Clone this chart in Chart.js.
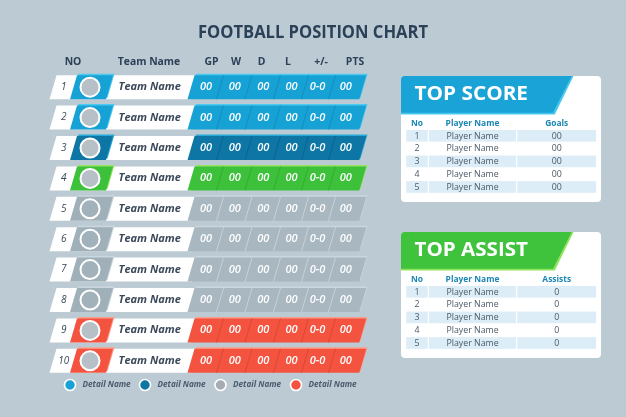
<!DOCTYPE html>
<html>
<head>
<meta charset="utf-8">
<script src="https://cdn.jsdelivr.net/npm/chart.js@4.4.1/dist/chart.umd.min.js"></script>
<style>
html,body{margin:0;padding:0;width:626px;height:417px;overflow:hidden;background:#bccad3;}
#main{position:absolute;left:0;top:0;}
.panel{position:absolute;}
#p1{left:401px;top:76px;}
#p2{left:401px;top:232px;}
</style>
</head>
<body>
<canvas id="main" width="626" height="417"></canvas>
<canvas id="p1" class="panel" width="200" height="126"></canvas>
<canvas id="p2" class="panel" width="200" height="126"></canvas>
<script>
// ---------- DATA ----------
const chartTitle = 'FOOTBALL POSITION CHART';
const headers = ['NO', 'Team Name', 'GP', 'W', 'D', 'L', '+/-', 'PTS'];
const ranks = ['1', '2', '3', '4', '5', '6', '7', '8', '9', '10'];
const teams = ['Team Name', 'Team Name', 'Team Name', 'Team Name', 'Team Name', 'Team Name', 'Team Name', 'Team Name', 'Team Name', 'Team Name'];
const zones = ['cyan', 'cyan', 'navy', 'green', 'grey', 'grey', 'grey', 'grey', 'red', 'red'];
const gp = ['00', '00', '00', '00', '00', '00', '00', '00', '00', '00'];
const wins = ['00', '00', '00', '00', '00', '00', '00', '00', '00', '00'];
const draws = ['00', '00', '00', '00', '00', '00', '00', '00', '00', '00'];
const losses = ['00', '00', '00', '00', '00', '00', '00', '00', '00', '00'];
const goalDiff = ['0-0', '0-0', '0-0', '0-0', '0-0', '0-0', '0-0', '0-0', '0-0', '0-0'];
const pts = ['00', '00', '00', '00', '00', '00', '00', '00', '00', '00'];
const legendNames = ['Detail Name', 'Detail Name', 'Detail Name', 'Detail Name'];
const legendZones = ['cyan', 'navy', 'greyLegend', 'red'];

const scoreTitle = 'TOP SCORE';
const scoreHeaders = ['No', 'Player Name', 'Goals'];
const scoreRanks = ['1', '2', '3', '4', '5'];
const scorePlayers = ['Player Name', 'Player Name', 'Player Name', 'Player Name', 'Player Name'];
const scoreGoals = ['00', '00', '00', '00', '00'];

const assistTitle = 'TOP ASSIST';
const assistHeaders = ['No', 'Player Name', 'Assists'];
const assistRanks = ['1', '2', '3', '4', '5'];
const assistPlayers = ['Player Name', 'Player Name', 'Player Name', 'Player Name', 'Player Name'];
const assistValues = ['0', '0', '0', '0', '0'];

// ---------- STYLE / LAYOUT ----------
const FONT = "'Open Sans','Noto Sans',sans-serif";
const PAL = {
  cyan:  {fill:'#17a2d5', hi:'#4cc9ef', circle:'#b7c0c7', line:'rgba(0,60,100,0.22)'},
  navy:  {fill:'#0e76a5', hi:'#27a9d8', circle:'#b7c0c7', line:'rgba(0,30,60,0.25)'},
  green: {fill:'#3dc13b', hi:'#95e460', circle:'#b7c0c7', line:'rgba(0,80,0,0.2)'},
  grey:  {fill:'#a8b7c0', hi:'#cbd7de', circle:'#a2b2bb', line:'rgba(255,255,255,0.35)', badge:'#a0b0b9'},
  red:   {fill:'#f4533f', hi:'#fb9f8b', circle:'#b7c0c7', line:'rgba(120,20,0,0.22)'},
  greyLegend: {fill:'#a5acb4'}
};
const LAY = {
  slant: 7, thick: 24, hiOff: 1.5,
  white: [53, 195], badge: [73.5, 109.5],
  stats: [191, 220, 248.5, 277, 305, 332, 362.5],
  headerX: [73, 149, 211.5, 236, 261.5, 288, 321, 355], headerY: 62.5,
  titleX: 313, titleY: 33, titleW: 230,
  legendY: 385, legendX: [70, 145, 220.5, 296]
};
const statValues = [gp, wins, draws, losses, goalDiff, pts];

function para(ctx, xl, xr, yc, h, s) {
  ctx.beginPath();
  ctx.moveTo(xl - s / 2, yc + h / 2);
  ctx.lineTo(xl + s / 2, yc - h / 2);
  ctx.lineTo(xr + s / 2, yc - h / 2);
  ctx.lineTo(xr - s / 2, yc + h / 2);
  ctx.closePath();
}
function txt(ctx, str, x, y, font, color, align, opt) {
  opt = opt || {};
  ctx.save();
  ctx.font = font; ctx.fillStyle = color; ctx.textBaseline = 'middle'; ctx.textAlign = align;
  let k = opt.stretch || 1;
  if (opt.width) k = opt.width / ctx.measureText(str).width;
  ctx.translate(x, y); ctx.scale(k, 1);
  ctx.fillText(str, 0, 0);
  ctx.restore();
}
function props(el) { const p = el.getProps(['x', 'y', 'base', 'height'], true); return {xl: Math.min(p.x, p.base), xr: Math.max(p.x, p.base), y: p.y, h: p.height}; }

// ---------- MAIN STANDINGS CHART ----------
// higher "order" is painted first (underneath)
const mainDatasets = [
  {label: 'row', kind: 'white', order: 20, data: ranks.map(() => [LAY.white[0], LAY.white[1]])},
  {label: 'badge', kind: 'badge', order: 10, data: ranks.map(() => [LAY.badge[0], LAY.badge[1]])}
];
statValues.forEach((vals, i) => {
  mainDatasets.push({label: headers[i + 2], kind: 'stat', col: i, values: vals, order: 9 - i,
    data: ranks.map(() => [LAY.stats[i], LAY.stats[i + 1]])});
});

const standingsPlugin = {
  id: 'standings',
  beforeDraw(chart) {
    const ctx = chart.ctx;
    ctx.save(); ctx.fillStyle = '#bccad3'; ctx.fillRect(0, 0, chart.width, chart.height); ctx.restore();
  },
  beforeDatasetDraw(chart, args) {
    const ctx = chart.ctx;
    const ds = chart.data.datasets[args.index];
    if (ds.kind === 'stat' && ds.col === 0) {
      // raised light edge behind the whole stats band
      const last = chart.getDatasetMeta(7);
      args.meta.data.forEach((el, j) => {
        const a = props(el), b = props(last.data[j]);
        ctx.save(); ctx.fillStyle = PAL[zones[j]].hi;
        para(ctx, a.xl + LAY.hiOff, b.xr + LAY.hiOff, a.y - LAY.hiOff, a.h, LAY.slant); ctx.fill();
        ctx.restore();
      });
    }
    args.meta.data.forEach((el, j) => {
      const p = props(el);
      const pal = PAL[zones[j]];
      ctx.save();
      if (ds.kind === 'white') {
        ctx.fillStyle = '#ffffff';
        para(ctx, p.xl, p.xr, p.y, p.h, LAY.slant); ctx.fill();
      } else if (ds.kind === 'badge') {
        ctx.fillStyle = pal.hi;
        para(ctx, p.xl + LAY.hiOff, p.xr + LAY.hiOff, p.y - LAY.hiOff, p.h, LAY.slant); ctx.fill();
        ctx.fillStyle = pal.badge || pal.fill;
        para(ctx, p.xl, p.xr, p.y, p.h, LAY.slant); ctx.fill();
        ctx.beginPath(); ctx.arc((p.xl + p.xr) / 2 - 1.5, p.y, 9.5, 0, Math.PI * 2);
        ctx.fillStyle = pal.circle; ctx.fill();
        ctx.lineWidth = 2; ctx.strokeStyle = '#ffffff'; ctx.stroke();
      } else {
        ctx.fillStyle = pal.fill;
        para(ctx, p.xl, p.xr + 0.3, p.y, p.h, LAY.slant); ctx.fill();
        if (ds.col > 0) {
          ctx.beginPath();
          ctx.moveTo(p.xl - LAY.slant / 2, p.y + p.h / 2);
          ctx.lineTo(p.xl + LAY.slant / 2, p.y - p.h / 2);
          ctx.strokeStyle = pal.line; ctx.lineWidth = 1; ctx.stroke();
        }
      }
      ctx.restore();
    });
    return false;
  },
  afterDatasetsDraw(chart) {
    const ctx = chart.ctx;
    const white = chart.getDatasetMeta(0), badge = chart.getDatasetMeta(1), firstStat = chart.getDatasetMeta(2);
    ranks.forEach((r, j) => {
      const w = props(white.data[j]), b = props(badge.data[j]), s = props(firstStat.data[j]);
      txt(ctx, r, (w.xl + b.xl) / 2 + 0.5, w.y, 'italic 500 10px ' + FONT, '#3b4859', 'center');
      txt(ctx, teams[j], (b.xr + s.xl) / 2 - 0.5, w.y, 'italic bold 10.5px ' + FONT, '#3b4859', 'center', {stretch: 1.05});
    });
    for (let c = 0; c < 6; c++) {
      const meta = chart.getDatasetMeta(2 + c);
      const ds = chart.data.datasets[2 + c];
      meta.data.forEach((el, j) => {
        const p = props(el);
        const dx = c === 5 ? -1.5 : (c === 4 ? -1 : 0.5);
        txt(ctx, ds.values[j], (p.xl + p.xr) / 2 + dx, p.y, 'italic 600 10.5px ' + FONT, '#ffffff', 'center', {stretch: 1.05});
      });
    }
  },
  afterDraw(chart) {
    const ctx = chart.ctx;
    txt(ctx, chartTitle, LAY.titleX, LAY.titleY, 'bold 17px ' + FONT, '#2b4158', 'center', {width: LAY.titleW});
    headers.forEach((h, i) => {
      txt(ctx, h, LAY.headerX[i], LAY.headerY, 'bold 10px ' + FONT, '#2c4158', 'center', {stretch: 1.04});
    });
    legendNames.forEach((n, i) => {
      const x = LAY.legendX[i];
      ctx.save();
      ctx.beginPath(); ctx.arc(x, LAY.legendY, 5.5, 0, Math.PI * 2);
      ctx.fillStyle = PAL[legendZones[i]].fill; ctx.fill();
      ctx.lineWidth = 1.6; ctx.strokeStyle = '#ffffff'; ctx.stroke();
      ctx.restore();
      txt(ctx, n, x + 12.5, LAY.legendY, 'italic bold 8px ' + FONT, '#4a5b6e', 'left', {stretch: 1.02});
    });
  }
};

new Chart(document.getElementById('main'), {
  type: 'bar',
  data: {labels: ranks, datasets: mainDatasets},
  options: {
    indexAxis: 'y', responsive: false, animation: false, events: [],
    layout: {padding: {top: 72, bottom: 41, left: 0, right: 0}},
    datasets: {bar: {grouped: false, barThickness: LAY.thick}},
    scales: {
      x: {type: 'linear', min: 0, max: 626, display: false},
      y: {type: 'category', display: false, offset: true}
    },
    plugins: {legend: {display: false}, tooltip: {enabled: false}, title: {display: false}}
  },
  plugins: [standingsPlugin]
});

// ---------- SIDE PANELS ----------
const PLAY = {cols: [4.7, 27.3, 115.7, 195.7], thick: 11.7, headH: 36.7, headTop: 170.7, headBot: 152, radius: 4, titleX: 13.5, titleY: 18, titleW: 113.5};

function makePanel(canvasId, title, heads, rowRanks, rowNames, rowVals, band, bandHi) {
  const labels = [heads[0]].concat(rowRanks);
  const datasets = [0, 1, 2].map(c => ({
    label: heads[c],
    data: labels.map((_, i) => (i % 2 === 1) ? [PLAY.cols[c], PLAY.cols[c + 1]] : null)
  }));
  const cols = [rowRanks, rowNames, rowVals];
  const panelPlugin = {
    id: 'panel',
    beforeDraw(chart) {
      const ctx = chart.ctx, W = chart.width, H = chart.height;
      ctx.save();
      ctx.beginPath(); ctx.roundRect(0, 0, W, H, PLAY.radius);
      ctx.fillStyle = '#ffffff'; ctx.fill();
      ctx.clip();
      const o = 1.8;
      ctx.fillStyle = bandHi;
      ctx.beginPath(); ctx.moveTo(0, 0); ctx.lineTo(PLAY.headTop + o, 0); ctx.lineTo(PLAY.headBot + o, PLAY.headH + o); ctx.lineTo(0, PLAY.headH + o); ctx.closePath(); ctx.fill();
      ctx.fillStyle = band;
      ctx.beginPath(); ctx.moveTo(0, 0); ctx.lineTo(PLAY.headTop, 0); ctx.lineTo(PLAY.headBot, PLAY.headH); ctx.lineTo(0, PLAY.headH); ctx.closePath(); ctx.fill();
      ctx.restore();
      txt(ctx, title, PLAY.titleX, PLAY.titleY, 'bold 19.5px ' + FONT, '#ffffff', 'left', {width: PLAY.titleW});
    },
    beforeDatasetDraw(chart, args) {
      const ctx = chart.ctx;
      args.meta.data.forEach((el, i) => {
        if (chart.data.datasets[args.index].data[i] == null) return;
        const p = props(el);
        ctx.save(); ctx.fillStyle = '#dcedf8';
        ctx.fillRect(p.xl + 0.6, p.y - p.h / 2, p.xr - p.xl - 1.2, p.h);
        ctx.restore();
      });
      return false;
    },
    afterDatasetsDraw(chart) {
      const ctx = chart.ctx, xs = chart.scales.x, ys = chart.scales.y;
      for (let c = 0; c < 3; c++) {
        const cx = (xs.getPixelForValue(PLAY.cols[c]) + xs.getPixelForValue(PLAY.cols[c + 1])) / 2;
        txt(ctx, heads[c], cx, ys.getPixelForValue(0) + 0.5, 'bold 8px ' + FONT, '#1a86b4', 'center', {stretch: 1.05});
        cols[c].forEach((v, i) => {
          txt(ctx, v, cx, ys.getPixelForValue(i + 1) + 0.5, '8.3px ' + FONT, '#4a5866', 'center', {stretch: 1.06});
        });
      }
    }
  };
  new Chart(document.getElementById(canvasId), {
    type: 'bar',
    data: {labels: labels, datasets: datasets},
    options: {
      indexAxis: 'y', responsive: false, animation: false, events: [],
      layout: {padding: {top: 40.6, bottom: 8.6, left: 0, right: 0}},
      datasets: {bar: {grouped: false, barThickness: PLAY.thick}},
      scales: {
        x: {type: 'linear', min: 0, max: 200, display: false},
        y: {type: 'category', display: false, offset: true}
      },
      plugins: {legend: {display: false}, tooltip: {enabled: false}, title: {display: false}}
    },
    plugins: [panelPlugin]
  });
}

makePanel('p1', scoreTitle, scoreHeaders, scoreRanks, scorePlayers, scoreGoals, '#1aa3d6', '#48c7ee');
makePanel('p2', assistTitle, assistHeaders, assistRanks, assistPlayers, assistValues, '#3fc23c', '#8fe25c');
</script>
</body>
</html>
